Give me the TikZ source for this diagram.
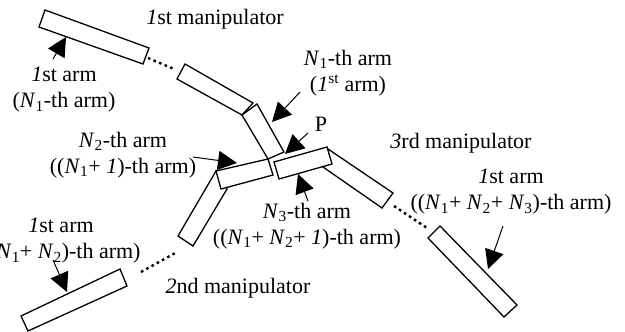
\documentclass[tikz,border=0pt]{standalone}
\usepackage{fontspec}
\setmainfont{Liberation Serif}
\usepackage{xcolor}
\usetikzlibrary{arrows.meta}
\newcommand{\Nsub}[1]{\textit{N}\textsubscript{#1}}

\begin{document}
\begin{tikzpicture}[x=1pt, y=-1pt,
    arm/.style={draw=black, fill=white, line width=1.3pt, line join=miter},
    dotline/.style={line width=2.4pt, dash pattern=on 2.6pt off 3.4pt},
    pointer/.style={-{Triangle[length=19pt, width=19pt]}, line width=1pt},
    lbl/.style={inner sep=0pt, align=center, font=\fontsize{22}{26}\selectfont}]
    % Page area, the lower left label runs off the edge
    \clip (0, 0) rectangle (625, 332);

    % Arms of the 1st manipulator
    \draw[arm] (45, 10) -- (149, 48) -- (143, 64) -- (39, 27) -- cycle;
    \draw[arm] (185, 64) -- (253, 103) -- (242, 115) -- (177, 79) -- cycle;
    \draw[arm] (242, 115) -- (257, 104) -- (284, 152) -- (268, 159) -- cycle;

    % Arms of the 2nd manipulator
    \draw[arm] (120, 269) -- (127, 286) -- (28, 331) -- (21, 316) -- cycle;
    \draw[arm] (216, 171) -- (227, 189) -- (193, 246) -- (178, 236) -- cycle;
    \draw[arm] (216, 171) -- (268, 159) -- (273, 175) -- (221, 189) -- cycle;

    % Arms of the 3rd manipulator
    \draw[arm] (328, 149) -- (393, 193) -- (382, 208) -- (323, 167) -- cycle;
    \draw[arm] (274, 162) -- (327, 147) -- (332, 164) -- (279, 179) -- cycle;
    \draw[arm] (440, 226) -- (517, 305) -- (504, 317) -- (428, 238) -- cycle;

    % Dotted gaps, one per manipulator
    \coordinate (gapa1) at (148, 58);
    \coordinate (gapa2) at (174, 69);
    \coordinate (gapb1) at (141, 272);
    \coordinate (gapb2) at (177, 252);
    \coordinate (gapc1) at (394, 206);
    \coordinate (gapc2) at (427, 228);
    \draw[dotline] (gapa1) -- (gapa2);
    \draw[dotline] (gapb1) -- (gapb2);
    \draw[dotline] (gapc1) -- (gapc2);

    % Labels
    \node[lbl] (manipa) at (215, 19) {\textit{1}st manipulator};
    \node[lbl] (manipc) at (461, 143) {\textit{3}rd manipulator};
    \node[lbl] (manipb) at (238, 288) {\textit{2}nd manipulator};
    \node[lbl] (armfirst) at (64, 90) {\textit{1}st arm\\(\Nsub{1}-th arm)};
    \node[lbl] (armlast) at (348, 73) {\Nsub{1}-th arm\\(\textit{1}\textsuperscript{st} arm)};
    \node[lbl] (armsecond) at (123, 155) {\Nsub{2}-th arm\\((\Nsub{1}+ \textit{1})-th arm)};
    \node[lbl] (armlow) at (61, 241) {\textit{1}st arm\\((\Nsub{1}+ \Nsub{2})-th arm)};
    \node[lbl] (armthird) at (307, 226) {\Nsub{3}-th arm\\((\Nsub{1}+ \Nsub{2}+ \textit{1})-th arm)};
    \node[lbl] (armright) at (511, 192) {\textit{1}st arm\\((\Nsub{1}+ \Nsub{2}+ \Nsub{3})-th arm)};
    \node[lbl] (pointp) at (321, 124) {P};

    % Pointers from the labels to the arms
    \coordinate (tipa) at (66, 37);
    \coordinate (taila) at (53, 59);
    \coordinate (tipb) at (272, 122);
    \coordinate (tailb) at (300, 92);
    \coordinate (tipp) at (285, 154);
    \coordinate (tailp) at (308, 133);
    \coordinate (tipc) at (237, 163);
    \coordinate (tailc) at (193, 157);
    \coordinate (tipd) at (298, 174);
    \coordinate (taild) at (308, 201);
    \coordinate (tipe) at (67, 292);
    \coordinate (taile) at (53, 260);
    \coordinate (tipf) at (488, 269);
    \coordinate (tailf) at (503, 226);
    \draw[pointer] (taila) -- (tipa);
    \draw[pointer] (tailb) -- (tipb);
    \draw[pointer] (tailp) -- (tipp);
    \draw[pointer] (tailc) -- (tipc);
    \draw[pointer] (taild) -- (tipd);
    \draw[pointer] (taile) -- (tipe);
    \draw[pointer] (tailf) -- (tipf);
\end{tikzpicture}
\end{document}
